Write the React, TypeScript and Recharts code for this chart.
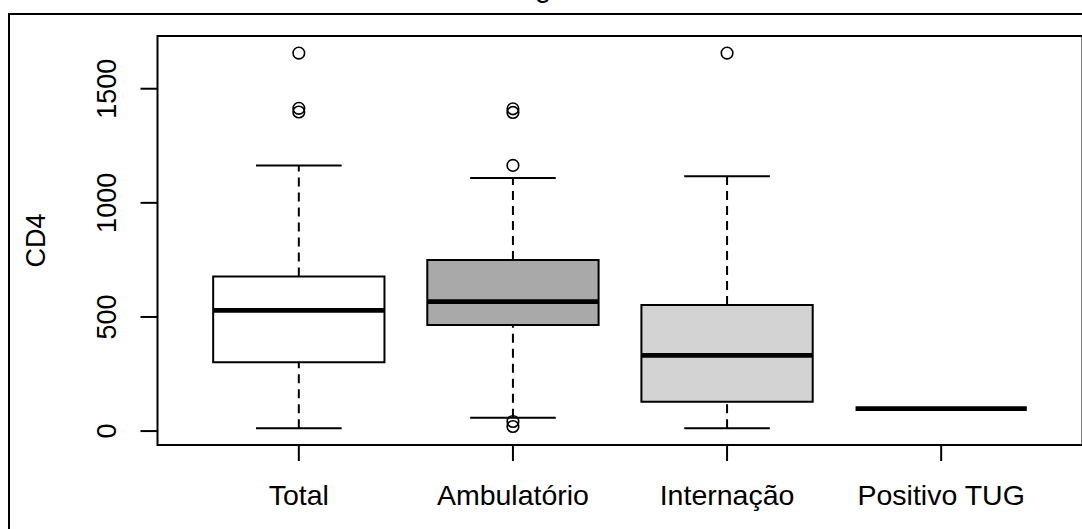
import { ComposedChart, XAxis, YAxis, Scatter, ReferenceArea, ReferenceLine } from 'recharts';

// box plot statistics (CD4 by group)
const categories = ['Total', 'Ambulatório', 'Internação', 'Positivo TUG'];
const lowerWhisker = [12, 58, 12, 98];
const q1 = [302, 465, 128, 98];
const median = [529, 567, 332, 98];
const q3 = [677, 750, 552, 98];
const upperWhisker = [1164, 1109, 1117, 98];
const outliers = [
  [1398, 1414, 1656],
  [1396, 1412, 1164, 42, 20],
  [1656],
  [],
];
const boxFills = ['#FFFFFF', '#A9A9A9', '#D3D3D3', '#FFFFFF'];
const yTicks = [0, 500, 1000, 1500];

const xDomain = [0.34, 4.66];
const yDomain = [-61, 1731];
const BOX_HALF = 0.4;
const CAP_HALF = 0.2;
const FONT = '"Liberation Sans", Arial, sans-serif';

const outlierPoints = outliers.flatMap((vals, i) => vals.map((v) => ({ x: i + 1, y: v })));

const OutlierDot = (props: any) => (
  <circle cx={props.cx} cy={props.cy} r={5.8} fill="none" stroke="#000" strokeWidth={1.6} />
);

const YTick = (props: any) => {
  const { x, y, payload } = props;
  return (
    <text x={x} y={y} transform={`rotate(-90, ${x}, ${y})`} textAnchor="middle" fontSize={27} fontFamily={FONT} fill="#000">
      {payload.value}
    </text>
  );
};

const XTick = (props: any) => {
  const { x, y, payload } = props;
  return (
    <text x={x} y={y} dy="0.71em" textAnchor="middle" fontSize={28.5} fontFamily={FONT} fill="#000">
      {categories[payload.value - 1]}
    </text>
  );
};

const YLabel = (props: any) => {
  const vb = props.viewBox || { y: 36, height: 409 };
  const cy = vb.y + vb.height / 2;
  return (
    <text x={45} y={cy} transform={`rotate(-90, 45, ${cy})`} textAnchor="middle" fontSize={27} fontFamily={FONT} fill="#000">
      CD4
    </text>
  );
};

export default function App() {
  return (
    <div style={{ position: 'absolute', left: 0, top: 0, width: 1082, height: 529, overflow: 'hidden', background: '#fff' }}>
      {/* figure frame */}
      <div style={{ position: 'absolute', left: 8, top: 13, width: 2000, height: 2000, border: '2px solid #000' }} />
      {/* title, cut off at the top edge as in the reference */}
      <svg style={{ position: 'absolute', left: 0, top: 0 }} width={1082} height={20}>
        <text x={543} y={-3} textAnchor="middle" fontSize={29} fontFamily={FONT} fill="#000">g</text>
      </svg>
      <div style={{ position: 'absolute', left: 0, top: 0 }}>
        <ComposedChart width={1100} height={529} margin={{ top: 36, right: 17.5, left: 0, bottom: 0 }}>
          <XAxis
            type="number"
            dataKey="x"
            domain={xDomain}
            ticks={[1, 2, 3, 4]}
            allowDataOverflow
            axisLine={false}
            tickSize={16}
            tickMargin={24}
            tickLine={{ stroke: '#000', strokeWidth: 2 }}
            tick={<XTick />}
            height={84}
          />
          <YAxis
            type="number"
            dataKey="y"
            domain={yDomain}
            ticks={yTicks}
            allowDataOverflow
            axisLine={false}
            width={157.5}
            tickSize={17}
            tickMargin={24}
            tickLine={{ stroke: '#000', strokeWidth: 2 }}
            tick={<YTick />}
            label={{ content: <YLabel /> }}
          />
          {/* plot box */}
          <ReferenceArea
            x1={xDomain[0]}
            x2={xDomain[1]}
            y1={yDomain[0]}
            y2={yDomain[1]}
            fill="none"
            stroke="#000"
            strokeWidth={2}
            ifOverflow="visible"
          />
          {categories.map((c, i) => (
            <ReferenceLine
              key={`wu-${c}`}
              segment={[{ x: i + 1, y: q3[i] }, { x: i + 1, y: upperWhisker[i] }]}
              stroke="#000"
              strokeWidth={2}
              strokeDasharray="9 6"
              ifOverflow="visible"
            />
          ))}
          {categories.map((c, i) => (
            <ReferenceLine
              key={`wl-${c}`}
              segment={[{ x: i + 1, y: lowerWhisker[i] }, { x: i + 1, y: q1[i] }]}
              stroke="#000"
              strokeWidth={2}
              strokeDasharray="9 6"
              ifOverflow="visible"
            />
          ))}
          {categories.map((c, i) => (
            <ReferenceLine
              key={`cu-${c}`}
              segment={[{ x: i + 1 - CAP_HALF, y: upperWhisker[i] }, { x: i + 1 + CAP_HALF, y: upperWhisker[i] }]}
              stroke="#000"
              strokeWidth={2}
              ifOverflow="visible"
            />
          ))}
          {categories.map((c, i) => (
            <ReferenceLine
              key={`cl-${c}`}
              segment={[{ x: i + 1 - CAP_HALF, y: lowerWhisker[i] }, { x: i + 1 + CAP_HALF, y: lowerWhisker[i] }]}
              stroke="#000"
              strokeWidth={2}
              ifOverflow="visible"
            />
          ))}
          {categories.map((c, i) => (
            <ReferenceArea
              key={`box-${c}`}
              x1={i + 1 - BOX_HALF}
              x2={i + 1 + BOX_HALF}
              y1={q1[i]}
              y2={q3[i]}
              fill={boxFills[i]}
              fillOpacity={1}
              stroke="#000"
              strokeWidth={2}
              ifOverflow="visible"
            />
          ))}
          {categories.map((c, i) => (
            <ReferenceLine
              key={`med-${c}`}
              segment={[{ x: i + 1 - BOX_HALF, y: median[i] }, { x: i + 1 + BOX_HALF, y: median[i] }]}
              stroke="#000"
              strokeWidth={4.8}
              ifOverflow="visible"
            />
          ))}
          <Scatter data={outlierPoints} dataKey="y" shape={<OutlierDot />} isAnimationActive={false} />
        </ComposedChart>
      </div>
    </div>
  );
}
